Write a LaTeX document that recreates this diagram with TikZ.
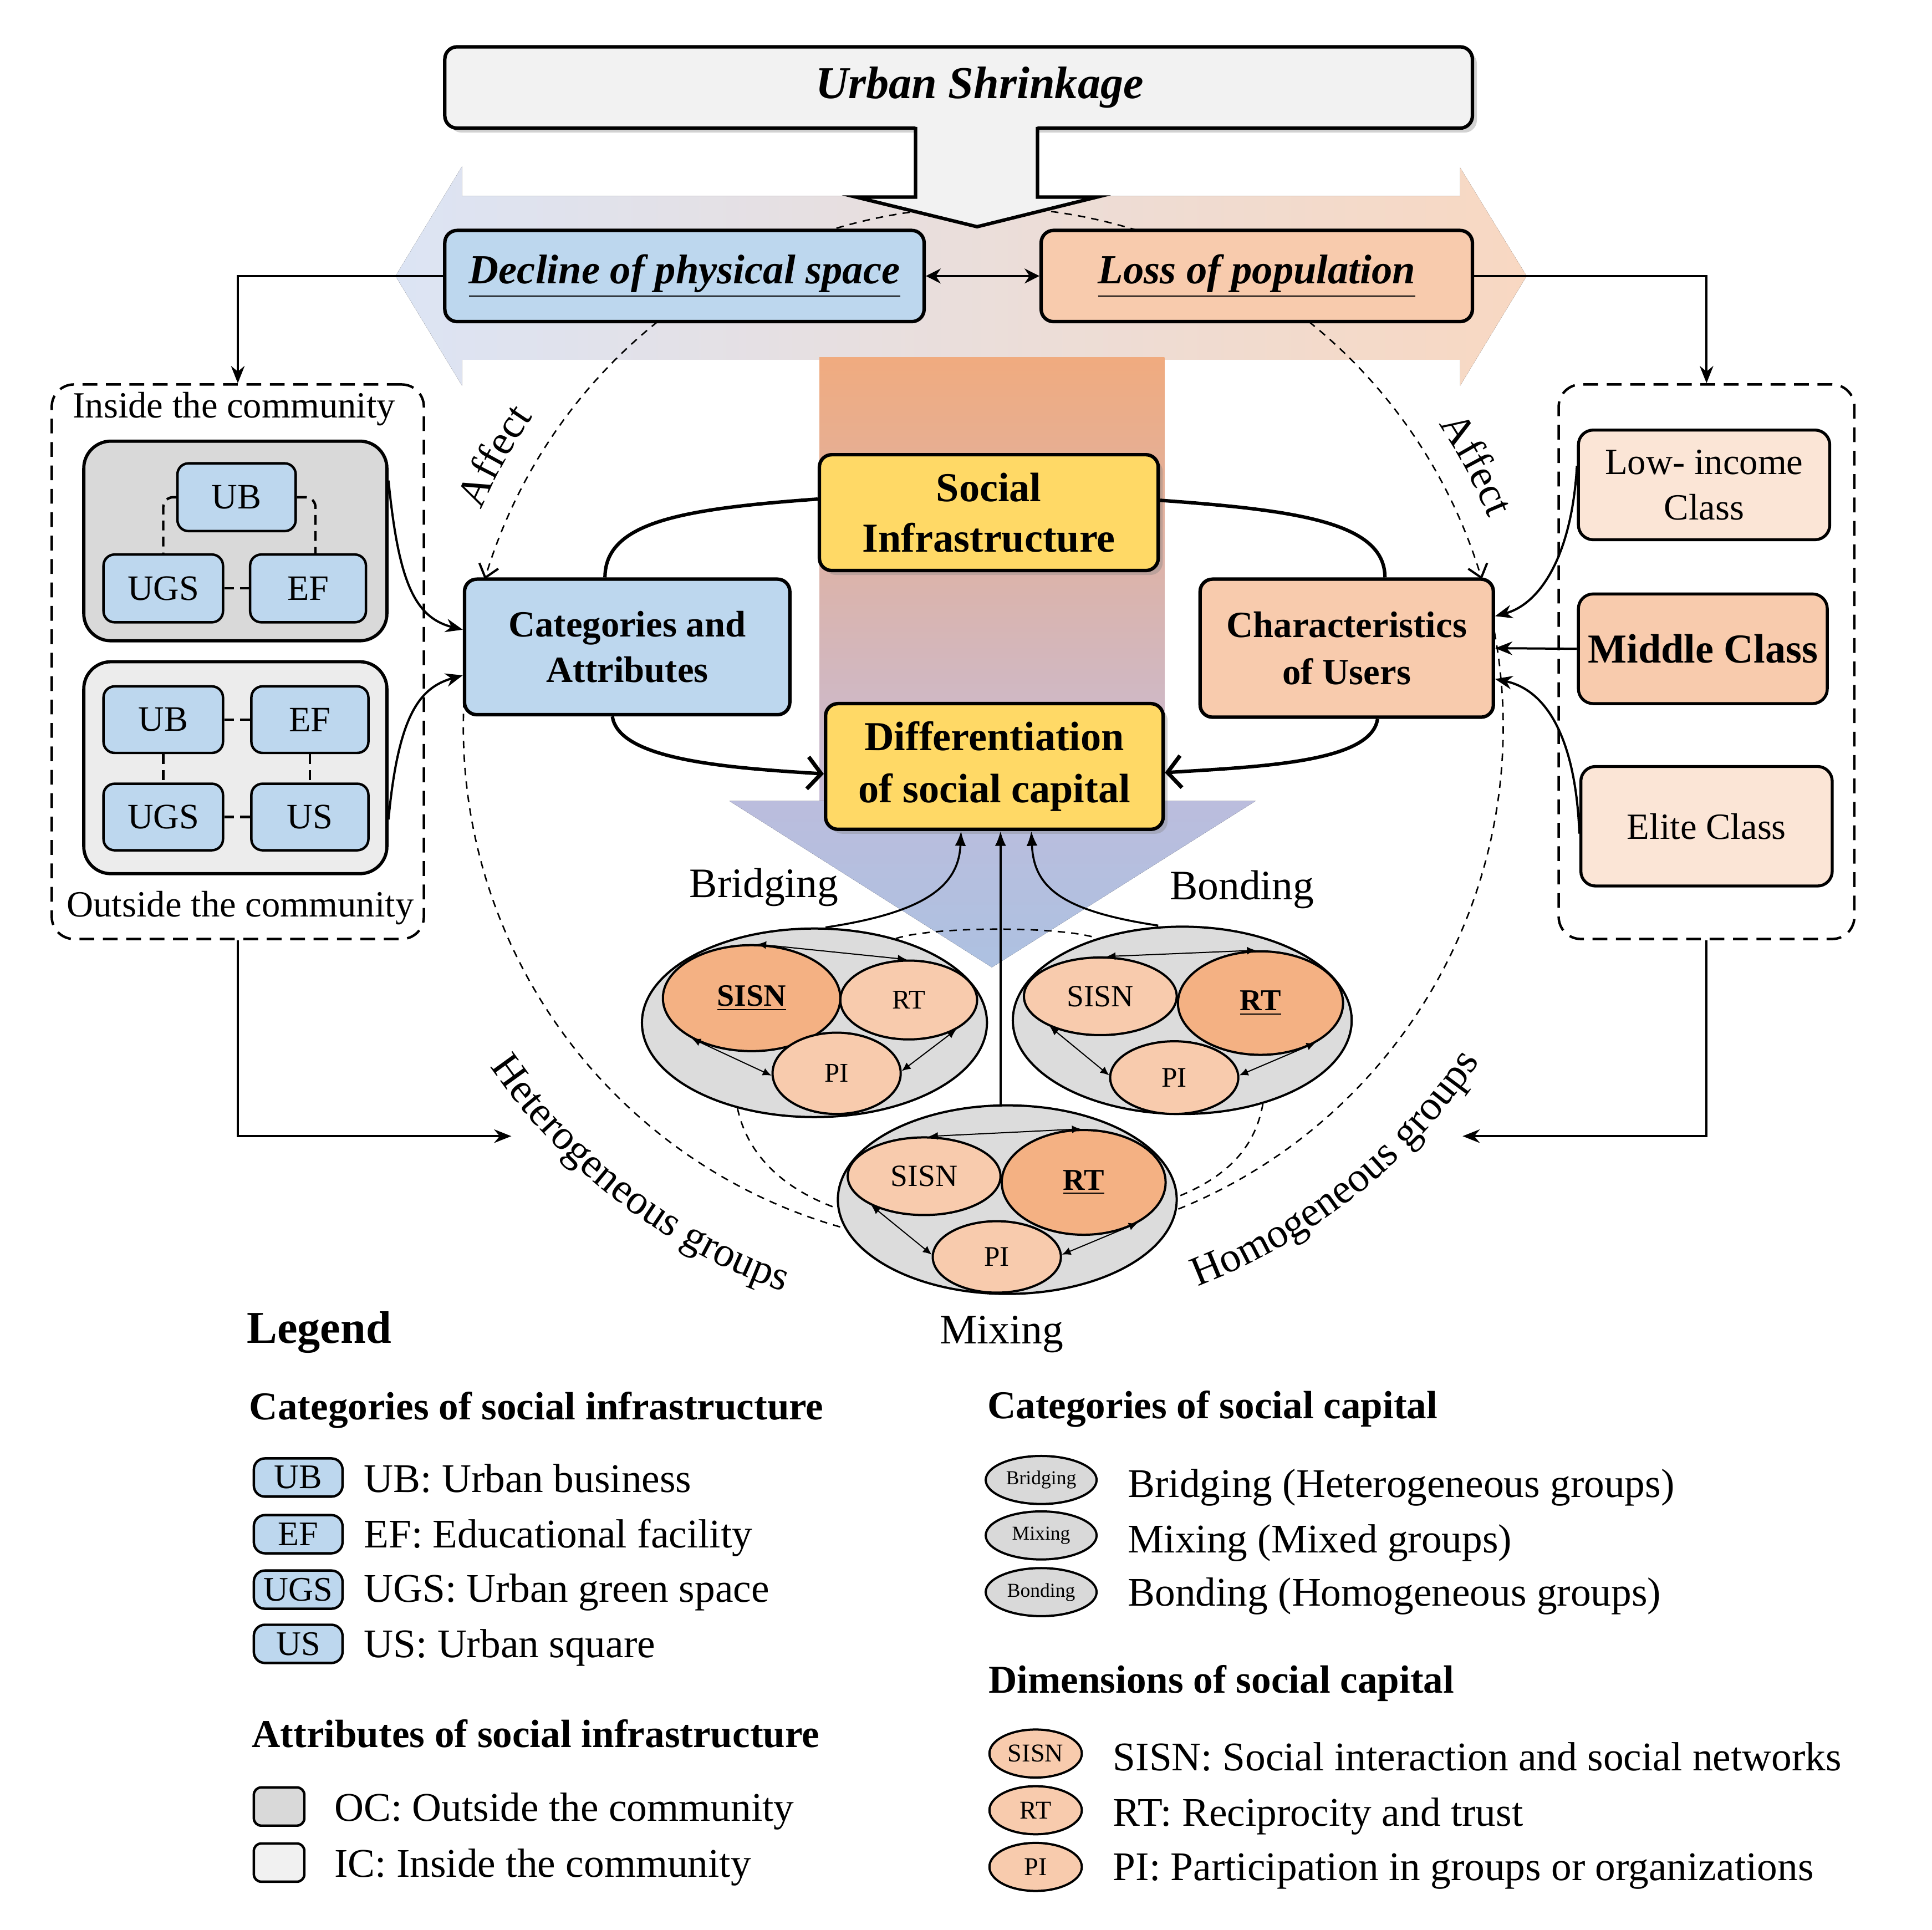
\documentclass[tikz,border=0pt]{standalone}
\usepackage{fontspec}
\setmainfont{Liberation Serif}
\usetikzlibrary{arrows.meta,shapes.geometric,shadows,decorations.text,calc}
\definecolor{cblue}{HTML}{BDD7EE}
\definecolor{cpeach}{HTML}{F8CBAD}
\definecolor{clight}{HTML}{FBE5D6}
\definecolor{corange}{HTML}{F4B183}
\definecolor{cyellow}{HTML}{FFD966}
\definecolor{cgreyA}{HTML}{D9D9D9}
\definecolor{cgreyB}{HTML}{ECECEC}
\definecolor{cgreyC}{HTML}{F1F1F1}
\definecolor{cgroup}{HTML}{DCDCDC}
\definecolor{cshrink}{HTML}{F2F2F2}
\definecolor{hbandL}{HTML}{DCE4F4}
\definecolor{hbandM}{HTML}{E6E4E5}
\definecolor{hbandR}{HTML}{F8D8C2}
\definecolor{vbandT}{HTML}{F0AB7F}
\definecolor{vbandM}{HTML}{DFB7B9}
\definecolor{vbandB}{HTML}{C6BCD8}
\definecolor{vtriT}{HTML}{BBBDDD}
\definecolor{vtriB}{HTML}{ADC1E1}
\newcommand{\curvefont}{\fontsize{17}{17}\selectfont}

\begin{document}
\begin{tikzpicture}[x=0.5pt,y=-0.5pt,
  box/.style={draw,line width=1.4pt,rounded corners=5pt,align=center,inner sep=0pt},
  sh/.style={drop shadow={shadow xshift=1.8pt,shadow yshift=-1.8pt,opacity=0.35}},
  panel/.style={draw,line width=1pt,dash pattern=on 6pt off 3.5pt,rounded corners=9pt,inner sep=0pt},
  grpbox/.style={draw,line width=1.3pt,rounded corners=11pt,inner sep=0pt,minimum width=123pt},
  infra/.style={draw,line width=1pt,rounded corners=4.5pt,fill=cblue,inner sep=0pt,minimum height=27.5pt,font=\fontsize{14.5}{16}\selectfont},
  clsbox/.style={draw,line width=1.2pt,rounded corners=6pt,align=center,inner sep=0pt,minimum width=102pt},
  grp/.style={ellipse,draw,line width=0.9pt,fill=cgroup,inner sep=0pt},
  dimell/.style={ellipse,draw,line width=0.9pt,inner sep=0pt},
  minorarr/.style={{Latex[length=3.6pt,width=3.2pt]}-{Latex[length=3.6pt,width=3.2pt]},line width=0.45pt},
  link/.style={line width=0.9pt,-{Stealth[length=7pt,width=5.5pt]}},
  ringline/.style={line width=1.4pt},
  ringarrow/.style={ringline,-{Straight Barb[length=5.5pt,width=13pt,line width=1.6pt]}},
  uparrow/.style={line width=0.8pt,-{Latex[length=6pt,width=4.5pt]}},
  circdash/.style={line width=0.6pt,dash pattern=on 3pt off 2.5pt},
  affectarrow/.style={circdash,-{Straight Barb[length=5pt,width=8pt,line width=0.9pt]}},
  innerdash/.style={line width=1pt,dash pattern=on 4pt off 2.5pt},
  lbl/.style={inner sep=0pt,font=\fontsize{17}{20}\selectfont},
  lgtext/.style={anchor=base west,inner sep=0pt,font=\fontsize{16.5}{18}\selectfont},
  lghead/.style={anchor=base west,inner sep=0pt,font=\fontsize{16}{18}\selectfont\bfseries}]

\useasboundingbox (0,0) rectangle (1568,1566);
\fill[white] (0,0) rectangle (1568,1566);

% ---------- background bands ----------
\fill[left color=hbandL,middle color=hbandM,right color=hbandR]
  (321,224) -- (375,135) -- (375,159) -- (1185,159) -- (1185,136) -- (1239,224)
  -- (1185,313) -- (1185,292) -- (375,292) -- (375,313) -- cycle;
\fill[top color=vbandT,middle color=vbandM,bottom color=vbandB] (665,290) rectangle (945,650);
\fill[top color=vtriT,bottom color=vtriB] (592,650) -- (1019,650) -- (805,785) -- cycle;

% ---------- large dashed ring ----------
\coordinate (ringc) at (798,590);
\draw[affectarrow] plot[smooth,samples=25,domain=231.2:196.5,variable=\t] ({798+422*cos(\t)},{590+422*sin(\t)});
\draw[affectarrow] plot[smooth,samples=25,domain=-51.2:-16.5,variable=\t] ({798+422*cos(\t)},{590+422*sin(\t)});
\draw[circdash] plot[smooth,samples=90,domain=-16.5:196.5,variable=\t] ({798+422*cos(\t)},{590+422*sin(\t)});
\draw[circdash] plot[smooth,samples=40,domain=231.2:308.8,variable=\t] ({798+422*cos(\t)},{590+422*sin(\t)});

% curved labels along the ring
\path[decorate,decoration={text along path,text align=center,text={|\curvefont|Affect}}]
  (ringc) ++(195:444) arc[start angle=-195,end angle=-223,radius=222pt];
\path[decorate,decoration={text along path,text align=center,text={|\curvefont|Affect}}]
  (ringc) ++(318:444) arc[start angle=-318,end angle=-346,radius=222pt];
\path[decorate,decoration={text along path,text align=center,text={|\curvefont|Heterogeneous groups}}]
  (ringc) ++(146:486) arc[start angle=-146,end angle=-109,radius=243pt];
\path[decorate,decoration={text along path,text align=center,text={|\curvefont|Homogeneous groups}}]
  (ringc) ++(70:486) arc[start angle=-70,end angle=-33,radius=243pt];

% ---------- Urban shrinkage ----------
\node[box,fill=cshrink,sh,minimum width=417pt,minimum height=33pt,
      font=\fontsize{18.5}{20}\selectfont\bfseries\itshape] (urban) at (778,71) {\hspace*{17pt}Urban Shrinkage};
\fill[cshrink] (743,102) -- (743,160) -- (695,160) -- (793,184) -- (890,160) -- (842,160) -- (842,102) -- cycle;
\draw[line width=1.4pt] (743,103) -- (743,160) -- (695,160) -- (793,184) -- (890,160) -- (842,160) -- (842,103);

% ---------- central boxes ----------
\node[box,fill=cblue,minimum width=194.5pt,minimum height=37pt,
      font=\fontsize{16.8}{20}\selectfont\bfseries\itshape] (decline) at (555.5,224) {\underline{Decline of physical space}};
\node[box,fill=cpeach,minimum width=175pt,minimum height=37pt,
      font=\fontsize{16.8}{20}\selectfont\bfseries\itshape] (loss) at (1020,224) {\underline{Loss of population}};
\draw[line width=1pt,{Stealth[length=6pt,width=6pt]}-{Stealth[length=6pt,width=6pt]}] (decline.east) -- (loss.west);

% ring of relations around social infrastructure
\node[box,fill=cyellow,sh,minimum width=137.5pt,minimum height=47pt,
      font=\fontsize{16.7}{20.5}\selectfont\bfseries] (social) at (802.5,416) {Social\\Infrastructure};
\node[box,fill=cblue,minimum width=132pt,minimum height=55pt,
      font=\fontsize{15}{18.5}\selectfont\bfseries] (categories) at (509,525) {Categories and\\Attributes};
\node[box,fill=cpeach,minimum width=119pt,minimum height=56pt,
      font=\fontsize{15}{19}\selectfont\bfseries] (characteristics) at (1093,526) {Characteristics\\of Users};
\node[box,fill=cyellow,sh,minimum width=137pt,minimum height=51pt,
      font=\fontsize{16.7}{21}\selectfont\bfseries] (diff) at (807,622) {Differentiation\\of social capital};

\draw[ringline] ([yshift=5.5pt]social.west) .. controls +(-110,8) and +(0,-45) .. ([xshift=-9pt]categories.north);
\draw[ringline] ([yshift=5pt]social.east) .. controls +(110,8) and +(0,-45) .. ([xshift=15.5pt]characteristics.north);
\draw[ringarrow] ([xshift=-6pt]categories.south) .. controls +(5,35) and +(-80,-5) .. ([yshift=-3pt]diff.west);
\draw[ringarrow] ([xshift=12.5pt]characteristics.south) .. controls +(-5,35) and +(80,-5) .. ([yshift=-2.5pt]diff.east);

% ---------- left panel: social infrastructure ----------
\node[panel,minimum width=151pt,minimum height=225pt] (leftpanel) at (193,537) {};
\node[lbl,font=\fontsize{15}{18}\selectfont] (insidelbl) at (190,332) {Inside the community};
\node[lbl,font=\fontsize{15}{18}\selectfont] (outsidelbl) at (195,737) {Outside the community};
\node[grpbox,fill=cgreyA,minimum height=81pt] (inner1) at (191,439) {};
\node[grpbox,fill=cgreyB,minimum height=86pt] (inner2) at (191,623) {};
\node[infra,minimum width=48pt] (ub1) at (192,403.5) {UB};
\node[infra,minimum width=48.5pt] (ugs1) at (132.5,477.5) {UGS};
\node[infra,minimum width=47pt] (ef1) at (250,477.5) {EF};
\draw[innerdash,rounded corners=4pt] (ub1.west) -| (ugs1.north);
\draw[innerdash,rounded corners=4pt] (ub1.east) -| ([xshift=3pt]ef1.north);
\draw[innerdash] (ugs1) -- (ef1);
\node[infra,minimum width=48.5pt,minimum height=27pt] (ub2) at (132.5,584) {UB};
\node[infra,minimum width=47.5pt,minimum height=27pt] (ef2) at (251.5,584) {EF};
\node[infra,minimum width=48.5pt,minimum height=27pt] (ugs2) at (132.5,663) {UGS};
\node[infra,minimum width=47.5pt,minimum height=27pt] (us2) at (251.5,663) {US};
\draw[innerdash] (ub2) -- (ef2);
\draw[innerdash] (ub2) -- (ugs2);
\draw[innerdash] (ef2) -- (us2);
\draw[innerdash] (ugs2) -- (us2);
\draw[link] ([yshift=24.5pt]inner1.east) .. controls +(8,80) and +(-40,-10) .. ([yshift=7pt]categories.west);
\draw[link] ([yshift=-21pt]inner2.east) .. controls +(8,-85) and +(-35,10) .. ([yshift=-11.5pt]categories.west);

% ---------- right panel: users ----------
\node[panel,minimum width=120pt,minimum height=225pt] (rightpanel) at (1385,537) {};
\node[clsbox,fill=clight,minimum height=44.5pt,font=\fontsize{15}{18.5}\selectfont] (low) at (1383,393.5) {Low- income\\Class};
\node[clsbox,fill=cpeach,minimum width=101pt,minimum height=44.5pt,font=\fontsize{16.7}{20}\selectfont\bfseries] (middle) at (1382,526.5) {Middle Class};
\node[clsbox,fill=clight,minimum height=48.5pt,font=\fontsize{15}{18.5}\selectfont] (elite) at (1385,670.5) {Elite Class};
\draw[link] ([yshift=7.75pt]low.west) .. controls +(-4,72) and +(37,-10) .. ([yshift=13pt]characteristics.east);
\draw[link] (middle.west) -- (characteristics.east);
\draw[link] ([yshift=-3pt]elite.west) .. controls +(-3,-77) and +(42,9) .. ([yshift=-12.5pt]characteristics.east);

% ---------- links from the top boxes to the panels ----------
\coordinate (hetend) at (415,922);
\coordinate (homend) at (1187,922);
\draw[link] (decline.west) -| (leftpanel.north);
\draw[link] (loss.east) -| (rightpanel.north);
\draw[link] (leftpanel.south) |- (hetend);
\draw[link] (rightpanel.south) |- (homend);

% ---------- groups of social capital ----------
\node[grp,minimum width=140pt,minimum height=76.5pt] (bridge) at (661,830) {};
\node[grp,minimum width=137.5pt,minimum height=76pt] (bond) at (959.5,828) {};
\node[grp,minimum width=137.5pt,minimum height=76.5pt] (mix) at (817.5,973.5) {};

% dashed envelope around the three groups
\draw[circdash] (bridge.46) .. controls +(30,-10) and +(-30,-10) .. (bond.136);
\draw[circdash] (bridge.228) .. controls +(7,33) and +(-50,-18) .. (mix.183);
\draw[circdash] (bond.-46) .. controls +(-6,34) and +(42,-17) .. (mix.1);

% bridging
\node[dimell,fill=corange,minimum width=72pt,minimum height=43pt,font=\fontsize{12.6}{14}\selectfont\bfseries] (b-sisn) at (610,810) {\underline{SISN}};
\node[dimell,fill=cpeach,minimum width=55.5pt,minimum height=32pt,font=\fontsize{11}{12}\selectfont] (b-rt) at (737.5,811.5) {RT};
\node[dimell,fill=cpeach,minimum width=52pt,minimum height=33pt,font=\fontsize{11}{12}\selectfont] (b-pi) at (679,871) {PI};
\draw[minorarr] (b-sisn.84) -- (b-rt.93);
\draw[minorarr] (b-sisn.214) -- (b-pi.182);
\draw[minorarr] (b-pi.2) -- (b-rt.-32);

% bonding
\node[dimell,fill=cpeach,minimum width=62pt,minimum height=31.5pt,font=\fontsize{12.5}{14}\selectfont] (o-sisn) at (893,808.5) {SISN};
\node[dimell,fill=corange,minimum width=67pt,minimum height=42pt,font=\fontsize{12.3}{14}\selectfont\bfseries] (o-rt) at (1023,814) {\underline{RT}};
\node[dimell,fill=cpeach,minimum width=52pt,minimum height=29.5pt,font=\fontsize{11.5}{13}\selectfont] (o-pi) at (953,874.5) {PI};
\draw[minorarr] (o-sisn.81) -- (o-rt.95);
\draw[minorarr] (o-sisn.211) -- (o-pi.178);
\draw[minorarr] (o-pi.2) -- (o-rt.-36);

% mixing
\node[dimell,fill=cpeach,minimum width=62pt,minimum height=31.5pt,font=\fontsize{12.5}{14}\selectfont] (m-sisn) at (750,954.5) {SISN};
\node[dimell,fill=corange,minimum width=66.5pt,minimum height=42.5pt,font=\fontsize{12.3}{14}\selectfont\bfseries] (m-rt) at (879.5,959.5) {\underline{RT}};
\node[dimell,fill=cpeach,minimum width=52pt,minimum height=29pt,font=\fontsize{11.5}{13}\selectfont] (m-pi) at (809,1020) {PI};
\draw[minorarr] (m-sisn.83) -- (m-rt.93);
\draw[minorarr] (m-sisn.209) -- (m-pi.178);
\draw[minorarr] (m-pi.2) -- (m-rt.-37);

% links from the groups to the differentiation box
\draw[uparrow] ([xshift=4.5pt]bridge.north) .. controls +(80,-12) and +(-2,45) .. ([xshift=-13.5pt]diff.south);
\draw[uparrow] ([xshift=-9.75pt]bond.north) .. controls +(-80,-12) and +(2,45) .. ([xshift=15pt]diff.south);
\coordinate (mixtop) at ([xshift=-2.75pt]mix.north);
\draw[uparrow] (mixtop) -- (mixtop |- diff.south);

\node[lbl] (bridginglbl) at (620,720) {Bridging};
\node[lbl] (bondinglbl) at (1008,722) {Bonding};
\node[lbl] (mixinglbl) at (813,1083) {Mixing};

% ---------- legend ----------
\node[lghead,font=\fontsize{18.5}{20}\selectfont\bfseries] (legend) at (200,1090) {Legend};
\node[lghead] (lgcatinfra) at (202,1152) {Categories of social infrastructure};
\node[infra,minimum width=36pt,minimum height=15.5pt,font=\fontsize{14}{15}\selectfont] (lg-ub) at (242,1199) {UB};
\node[infra,minimum width=36pt,minimum height=15.5pt,font=\fontsize{14}{15}\selectfont] (lg-ef) at (242,1245) {EF};
\node[infra,minimum width=36pt,minimum height=15.5pt,font=\fontsize{14}{15}\selectfont] (lg-ugs) at (242,1290) {UGS};
\node[infra,minimum width=36pt,minimum height=15.5pt,font=\fontsize{14}{15}\selectfont] (lg-us) at (242,1334) {US};
\node[lgtext] (lg-ubtxt) at (295,1211) {UB: Urban business};
\node[lgtext] (lg-eftxt) at (295,1256) {EF: Educational facility};
\node[lgtext] (lg-ugstxt) at (295,1300) {UGS: Urban green space};
\node[lgtext] (lg-ustxt) at (295,1345) {US: Urban square};
\node[lghead] (lgattr) at (204,1418) {Attributes of social infrastructure};
\node[draw,line width=1pt,rounded corners=3pt,fill=cgreyA,minimum width=20.5pt,minimum height=15.5pt,inner sep=0pt] (lg-oc) at (226.5,1466) {};
\node[draw,line width=1pt,rounded corners=3pt,fill=cgreyC,minimum width=20.5pt,minimum height=15.5pt,inner sep=0pt] (lg-ic) at (226.5,1511.5) {};
\node[lgtext] (lg-octxt) at (271,1478) {OC: Outside the community};
\node[lgtext] (lg-ictxt) at (271,1523) {IC: Inside the community};

\node[lghead] (lgcatcap) at (801,1151) {Categories of social capital};
\node[grp,fill=cgreyA,minimum width=45pt,minimum height=19.5pt,font=\fontsize{8}{9}\selectfont] (lg-bridge) at (845,1201) {Bridging};
\node[grp,fill=cgreyA,minimum width=45pt,minimum height=19.5pt,font=\fontsize{8}{9}\selectfont] (lg-mix) at (845,1246) {Mixing};
\node[grp,fill=cgreyA,minimum width=45pt,minimum height=19.5pt,font=\fontsize{8}{9}\selectfont] (lg-bond) at (845,1292) {Bonding};
\node[lgtext] (lg-bridgetxt) at (915,1215) {Bridging (Heterogeneous groups)};
\node[lgtext] (lg-mixtxt) at (915,1260) {Mixing (Mixed groups)};
\node[lgtext] (lg-bondtxt) at (915,1303) {Bonding (Homogeneous groups)};

\node[lghead] (lgdim) at (802,1374) {Dimensions of social capital};
\node[dimell,fill=cpeach,minimum width=37.5pt,minimum height=19.5pt,font=\fontsize{10.4}{11}\selectfont] (lg-sisn) at (840.5,1423) {SISN};
\node[dimell,fill=cpeach,minimum width=37.5pt,minimum height=19.5pt,font=\fontsize{10.4}{11}\selectfont] (lg-rt) at (840.5,1469) {RT};
\node[dimell,fill=cpeach,minimum width=37.5pt,minimum height=19.5pt,font=\fontsize{10.4}{11}\selectfont] (lg-pi) at (840.5,1515) {PI};
\node[lgtext] (lg-sisntxt) at (903,1437) {SISN: Social interaction and social networks};
\node[lgtext] (lg-rttxt) at (903,1482) {RT: Reciprocity and trust};
\node[lgtext] (lg-pitxt) at (903,1526) {PI: Participation in groups or organizations};
\end{tikzpicture}
\end{document}
